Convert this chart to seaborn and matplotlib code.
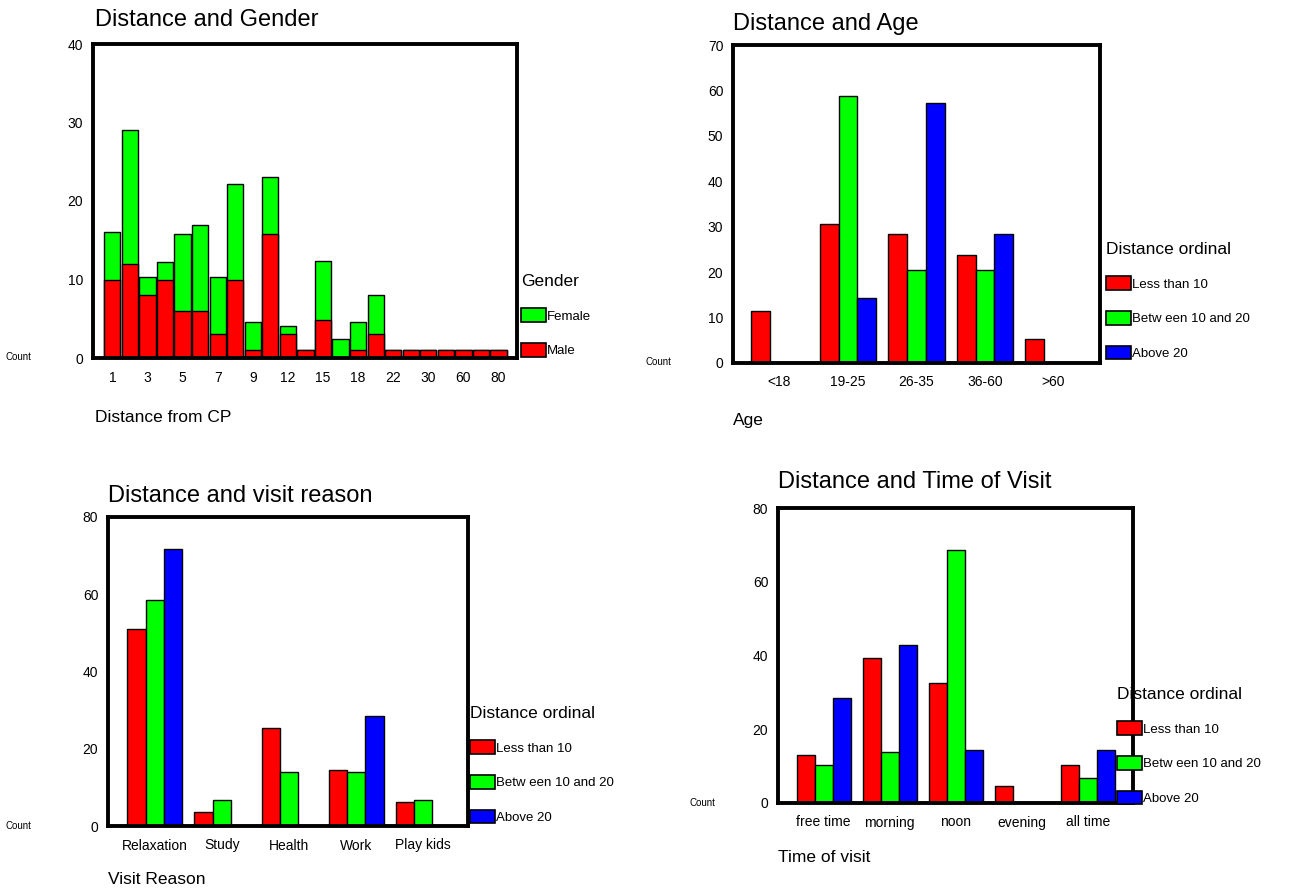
import numpy as np
import pandas as pd
import matplotlib
matplotlib.use("Agg")
import matplotlib.pyplot as plt
from matplotlib.patches import Patch
import seaborn as sns

# ---- data ----
dist_cats = ["1", "2", "3", "4", "5", "6", "7", "8", "9", "10", "12", "13",
             "15", "16", "18", "20", "22", "25", "30", "40", "60", "70", "80"]
dist_labels = ["1", "", "3", "", "5", "", "7", "", "9", "", "12", "",
               "15", "", "18", "", "22", "", "30", "", "60", "", "80"]
male = [10, 12, 8, 10, 6, 6, 3, 10, 1, 15.8, 3, 1,
        4.8, 0, 1, 3, 1, 1, 1, 1, 1, 1, 1]
female = [6, 17, 2.3, 2.2, 9.8, 11, 7.3, 12.2, 3.6, 7.2, 1.1, 0,
          7.5, 2.4, 3.6, 5, 0, 0, 0, 0, 0, 0, 0]

ord_levels = ["Less than 10", "Betw een 10 and 20", "Above 20"]

age_cats = ["<18", "19-25", "26-35", "36-60", ">60"]
age_less10 = [11.5, 30.5, 28.4, 23.8, 5.2]
age_10to20 = [0, 58.7, 20.5, 20.5, 0]
age_above20 = [0, 14.3, 57.2, 28.4, 0]

reason_cats = ["Relaxation", "Study", "Health", "Work", "Play kids"]
reason_less10 = [51, 3.6, 25.4, 14.5, 6.2]
reason_10to20 = [58.5, 6.8, 13.9, 13.9, 6.8]
reason_above20 = [71.7, 0, 0, 28.6, 0]

time_cats = ["free time", "morning", "noon", "evening", "all time"]
time_less10 = [12.9, 39.3, 32.6, 4.5, 10.2]
time_10to20 = [10.2, 13.7, 68.7, 0, 6.7]
time_above20 = [28.4, 42.8, 14.3, 0, 14.3]

colors = ["#FF0000", "#00FF00", "#0000FF"]

sns.set_style("white")
plt.rcParams['font.family'] = ['Liberation Sans', 'DejaVu Sans']
plt.rcParams['text.color'] = 'black'
plt.rcParams['axes.labelcolor'] = 'black'
plt.rcParams['xtick.color'] = 'black'
plt.rcParams['ytick.color'] = 'black'

W, H = 1293, 891
fig = plt.figure(figsize=(W / 100, H / 100), dpi=100)


def px_axes(x0, y0, x1, y1):
    return fig.add_axes([x0 / W, 1 - y1 / H, (x1 - x0) / W, (y1 - y0) / H])


def style_axes(ax, ymax, step, xlim):
    ax.set_ylim(0, ymax)
    ax.set_xlim(*xlim)
    ax.set_yticks(np.arange(0, ymax + 1, step))
    for s in ax.spines.values():
        s.set_visible(True)
        s.set_linewidth(2.8)
        s.set_color("black")
    ax.tick_params(axis="both", direction="out", length=3, width=2,
                   colors="black", labelsize=10, pad=6)
    ax.tick_params(axis="y", pad=4)
    ax.set_xlabel("")
    ax.set_ylabel("")


def add_legend(title, labels, cols, x, y):
    handles = [Patch(facecolor=c, edgecolor="black", linewidth=1.2) for c in cols]
    leg = fig.legend(handles, labels, title=title, loc="upper left",
                     bbox_to_anchor=(x / W, 1 - y / H), frameon=False,
                     fontsize=9.5, title_fontsize=12.5, handlelength=1.9,
                     handleheight=1.2, handletextpad=0.05, labelspacing=1.55,
                     borderaxespad=0, borderpad=0)
    leg._legend_box.align = "left"
    leg._legend_box.sep = 14


def grouped(ax, cats, series, ymax, step, xlim):
    df = pd.DataFrame({
        "cat": np.repeat(cats, 3),
        "grp": ord_levels * len(cats),
        "val": np.ravel(np.column_stack(series)),
    })
    sns.barplot(data=df, x="cat", y="val", hue="grp", order=cats,
                hue_order=ord_levels, palette=colors, width=0.82,
                saturation=1, edgecolor="black", linewidth=1,
                legend=False, ax=ax)
    style_axes(ax, ymax, step, xlim)


# ---- Distance and Gender (stacked) ----
ax1 = px_axes(93, 44, 517, 358)
total = np.array(male) + np.array(female)
gdf = pd.DataFrame({"dist": dist_cats, "total": total, "male": male})
sns.barplot(data=gdf, x="dist", y="total", order=dist_cats, color="#00FF00",
            saturation=1, width=0.92, edgecolor="black", linewidth=1, ax=ax1)
sns.barplot(data=gdf, x="dist", y="male", order=dist_cats, color="#FF0000",
            saturation=1, width=0.92, edgecolor="black", linewidth=1, ax=ax1)
style_axes(ax1, 40, 10, (-1.1, 23.05))
ax1.set_xticks(range(len(dist_cats)))
ax1.set_xticklabels(dist_labels)
fig.text(95 / W, 1 - 20 / H, "Distance and Gender", fontsize=17, va="center")
fig.text(95 / W, 1 - 418 / H, "Distance from CP", fontsize=12.5, va="center")
add_legend("Gender", ["Female", "Male"], ["#00FF00", "#FF0000"], 521, 274)

# ---- Distance and Age ----
ax2 = px_axes(733, 45, 1100, 363)
grouped(ax2, age_cats, [age_less10, age_10to20, age_above20], 70, 10, (-0.68, 4.68))
fig.text(733 / W, 1 - 24 / H, "Distance and Age", fontsize=17, va="center")
fig.text(733 / W, 1 - 421 / H, "Age", fontsize=12.5, va="center")
add_legend("Distance ordinal", ord_levels, colors, 1106, 242)

# ---- Distance and visit reason ----
ax3 = px_axes(108, 517, 468, 826)
grouped(ax3, reason_cats, [reason_less10, reason_10to20, reason_above20], 80, 20, (-0.7, 4.67))
fig.text(108 / W, 1 - 496 / H, "Distance and visit reason", fontsize=17, va="center")
fig.text(108 / W, 1 - 880 / H, "Visit Reason", fontsize=12.5, va="center")
add_legend("Distance ordinal", ord_levels, colors, 470, 706)

# ---- Distance and Time of Visit ----
ax4 = px_axes(778, 508, 1133, 803)
grouped(ax4, time_cats, [time_less10, time_10to20, time_above20], 80, 20, (-0.69, 4.68))
fig.text(778 / W, 1 - 482 / H, "Distance and Time of Visit", fontsize=17, va="center")
fig.text(778 / W, 1 - 858 / H, "Time of visit", fontsize=12.5, va="center")
add_legend("Distance ordinal", ord_levels, colors, 1117, 687)

# garbled "Count" y-labels sitting next to each zero tick
for x, y in [(5, 357), (645, 362), (5, 826), (690, 803)]:
    fig.text(x / W, 1 - y / H, "Count", fontsize=7, va="center")

fig.savefig("out.png", dpi=100, facecolor="white")
